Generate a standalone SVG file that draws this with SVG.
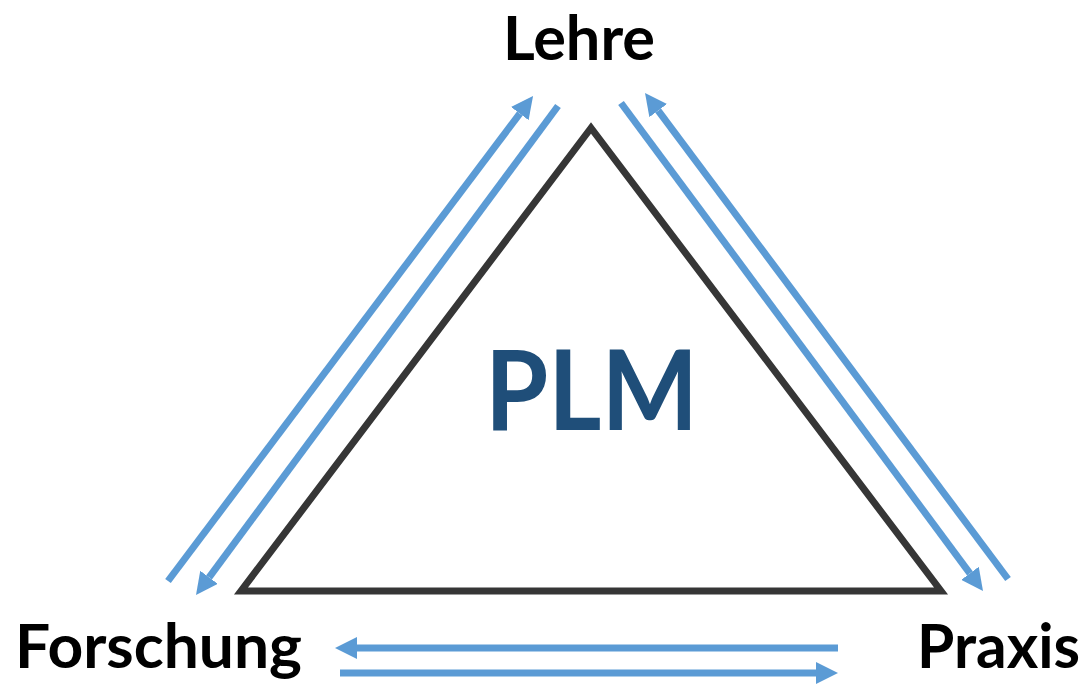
<svg xmlns="http://www.w3.org/2000/svg" width="1092" height="686" viewBox="0 0 1092 686">
  <style>
    .label { font-family: Lato, "Open Sans", "Liberation Sans", sans-serif; font-weight: bold; fill: #000; font-size: 62px; }
    .core { font-family: Lato, "Open Sans", "Liberation Sans", sans-serif; font-weight: bold; fill: #1f4e79; font-size: 112px; }
    .flow { stroke: #5b9bd5; stroke-width: 7; fill: none; stroke-linecap: butt; }
    .tri { stroke: #363636; stroke-width: 7; fill: #fff; stroke-linejoin: miter; }
  </style>
  <defs>
    <marker id="head" viewBox="0 0 22 22" refX="0" refY="11" markerWidth="22" markerHeight="22" markerUnits="userSpaceOnUse" orient="auto">
      <path d="M0,0 L22,11 L0,22 Z" fill="#5b9bd5"/>
    </marker>
  </defs>
  <rect width="1092" height="686" fill="#fff"/>

  <!-- central PLM triangle -->
  <g id="plm">
    <polygon class="tri" points="591,128 241,591 941,591"/>
    <text class="core" x="485" y="430" textLength="213" lengthAdjust="spacingAndGlyphs">PLM</text>
  </g>

  <!-- corner labels -->
  <g id="lehre">
    <text class="label" x="503" y="60" textLength="152" lengthAdjust="spacingAndGlyphs">Lehre</text>
  </g>
  <g id="forschung">
    <text class="label" x="15" y="668" textLength="287" lengthAdjust="spacingAndGlyphs">Forschung</text>
  </g>
  <g id="praxis">
    <text class="label" x="917" y="668" textLength="163" lengthAdjust="spacingAndGlyphs">Praxis</text>
  </g>

  <!-- two-way flows between the corners -->
  <g id="connectors">
    <line class="flow" x1="168" y1="581" x2="519.8" y2="113.6" marker-end="url(#head)"/>
    <line class="flow" x1="558" y1="106" x2="209.1" y2="577.3" marker-end="url(#head)"/>
    <line class="flow" x1="621" y1="103" x2="969.9" y2="573.3" marker-end="url(#head)"/>
    <line class="flow" x1="1008" y1="579" x2="658.2" y2="110.6" marker-end="url(#head)"/>
    <line class="flow" x1="838" y1="648" x2="357" y2="648" marker-end="url(#head)"/>
    <line class="flow" x1="340" y1="673" x2="816" y2="673" marker-end="url(#head)"/>
  </g>
</svg>
